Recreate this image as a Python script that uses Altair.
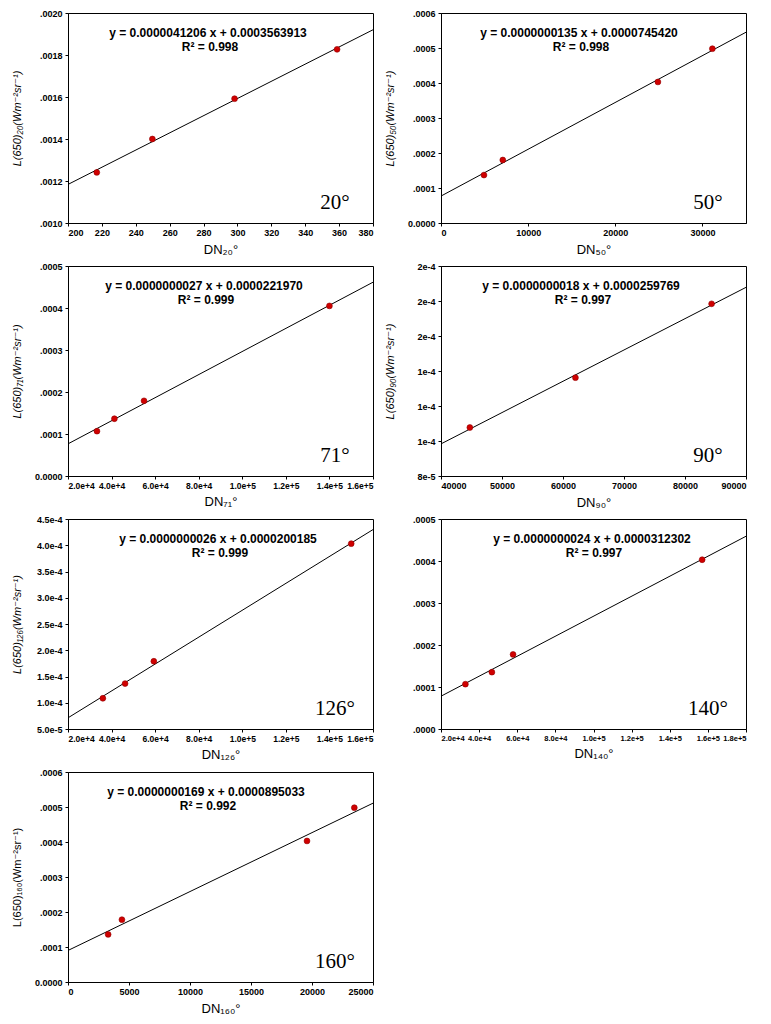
import altair as alt
import pandas as pd

# ---------------- data ----------------
angle_labels = ["20°", "50°", "71°", "90°", "126°", "140°", "160°"]
x_titles = ["DN₂₀°", "DN₅₀°", "DN₇₁°", "DN₉₀°", "DN₁₂₆°", "DN₁₄₀°", "DN₁₆₀°"]
y_titles = [
    "L(650)₂₀(Wm⁻²sr⁻¹)",
    "L(650)₅₀(Wm⁻²sr⁻¹)",
    "L(650)₇₁(Wm⁻²sr⁻¹)",
    "L(650)₉₀(Wm⁻²sr⁻¹)",
    "L(650)₁₂₆(Wm⁻²sr⁻¹)",
    "",
    "L(650)₁₆₀(Wm⁻²sr⁻¹)",
]

dn_20 = [217, 249.8, 298.3, 358.8]
l_20 = [0.001241, 0.001400, 0.001592, 0.001827]
dn_50 = [4930, 7090, 24890, 31140]
l_50 = [0.000137, 0.000180, 0.000403, 0.000498]
dn_71 = [33300, 41300, 54900, 140000]
l_71 = [0.0001067, 0.0001364, 0.000179, 0.000405]
dn_90 = [44730, 62040, 84360]
l_90 = [0.0001077, 0.0001362, 0.0001784]
dn_126 = [36000, 46200, 59400, 150000]
l_126 = [0.0001085, 0.0001365, 0.000179, 0.000403]
dn_140 = [32800, 46700, 57800, 157000]
l_140 = [0.0001067, 0.0001353, 0.0001775, 0.000403]
dn_160 = [3290, 4420, 19590, 23470]
l_160 = [0.000136, 0.000178, 0.000403, 0.000498]

equations = [
    "y = 0.0000041206 x + 0.0003563913",
    "y = 0.0000000135 x + 0.0000745420",
    "y = 0.0000000027 x + 0.0000221970",
    "y = 0.0000000018 x + 0.0000259769",
    "y = 0.0000000026 x + 0.0000200185",
    "y = 0.0000000024 x + 0.0000312302",
    "y = 0.0000000169 x + 0.0000895033",
]
r_squared = ["R² = 0.998", "R² = 0.998", "R² = 0.999", "R² = 0.997",
             "R² = 0.999", "R² = 0.997", "R² = 0.992"]

x_domains = [[200, 380], [0, 35000], [20000, 160000], [40000, 90000],
             [20000, 160000], [20000, 180000], [0, 25000]]
x_ticks = [
    [200, 220, 240, 260, 280, 300, 320, 340, 360, 380],
    [0, 10000, 20000, 30000],
    [20000, 40000, 60000, 80000, 100000, 120000, 140000, 160000],
    [40000, 50000, 60000, 70000, 80000, 90000],
    [20000, 40000, 60000, 80000, 100000, 120000, 140000, 160000],
    [20000, 40000, 60000, 80000, 100000, 120000, 140000, 160000, 180000],
    [0, 5000, 10000, 15000, 20000, 25000],
]
y_domains = [[0.0010, 0.0020], [0, 0.0006], [0, 0.0005], [0.00008, 0.00020],
             [0.00005, 0.00045], [0, 0.0005], [0, 0.0006]]
y_ticks = [
    [0.0010, 0.0012, 0.0014, 0.0016, 0.0018, 0.0020],
    [0, 0.0001, 0.0002, 0.0003, 0.0004, 0.0005, 0.0006],
    [0, 0.0001, 0.0002, 0.0003, 0.0004, 0.0005],
    [0.00008, 0.00010, 0.00012, 0.00014, 0.00016, 0.00018, 0.00020],
    [0.00005, 0.00010, 0.00015, 0.00020, 0.00025, 0.00030, 0.00035, 0.00040, 0.00045],
    [0, 0.0001, 0.0002, 0.0003, 0.0004, 0.0005],
    [0, 0.0001, 0.0002, 0.0003, 0.0004, 0.0005, 0.0006],
]

# ---------------- styling ----------------
W, H = 305, 210
FONT = "Liberation Sans, Arial, DejaVu Sans"
SERIF = "Liberation Serif, Times New Roman, serif"

dot_expr = "slice(format(datum.value, '.4f'), 1)"
zero_expr = "datum.value == 0 ? '0.0000' : slice(format(datum.value, '.4f'), 1)"
y_label_expr = [dot_expr, zero_expr, zero_expr, None, None, dot_expr, zero_expr]
y_formats = [None, None, None, ".0e", ".1e", None, None]
x_formats = ["d", "d", ".1e", "d", ".1e", ".1e", "d"]
x_label_sizes = [9, 9, 8.5, 9, 8.5, 7.5, 9]
eq_x = [140, 138, 136, 140, 150, 151, 138]
title_styles = ["italic"] * 6 + ["normal"]

series = [(dn_20, l_20), (dn_50, l_50), (dn_71, l_71), (dn_90, l_90),
          (dn_126, l_126), (dn_140, l_140), (dn_160, l_160)]


def panel(i):
    xs, ys = series[i]
    df = pd.DataFrame({"x": xs, "y": ys})
    yaxis_kw = dict(values=y_ticks[i], title=y_titles[i],
                    titleFontStyle=title_styles[i], titleX=-46, titleBaseline="bottom",
                    labelOverlap=False)
    if y_label_expr[i]:
        yaxis_kw["labelExpr"] = y_label_expr[i]
    else:
        yaxis_kw["format"] = y_formats[i]
    xenc = alt.X("x:Q", scale=alt.Scale(domain=x_domains[i], nice=False, zero=False),
                 axis=alt.Axis(values=x_ticks[i], format=x_formats[i], title=x_titles[i],
                               labelOverlap=False, labelFontSize=x_label_sizes[i]))
    yenc = alt.Y("y:Q", scale=alt.Scale(domain=y_domains[i], nice=False, zero=False),
                 axis=alt.Axis(**yaxis_kw))

    base = alt.Chart(df)
    line = base.transform_regression("x", "y", extent=x_domains[i]).mark_line(
        color="black", strokeWidth=1).encode(x=xenc, y=yenc)
    pts = base.mark_circle(size=34, color="#d00000", opacity=1,
                           stroke="#900000", strokeWidth=0.6).encode(x=xenc, y=yenc)

    tdf = pd.DataFrame({"eq": [equations[i]], "r2": [r_squared[i]], "ang": [angle_labels[i]]})
    tb = alt.Chart(tdf)
    eq = tb.mark_text(font=FONT, fontSize=12, fontWeight="bold", color="black",
                      align="center", baseline="middle").encode(
        x=alt.value(eq_x[i]), y=alt.value(20), text="eq:N")
    r2 = tb.mark_text(font=FONT, fontSize=12, fontWeight="bold", color="black",
                      align="center", baseline="middle").encode(
        x=alt.value(eq_x[i] + 2), y=alt.value(34), text="r2:N")
    ang = tb.mark_text(font=SERIF, fontSize=21, color="black",
                       align="center", baseline="middle").encode(
        x=alt.value(W - 38), y=alt.value(H - 20), text="ang:N")

    return alt.layer(line, pts, eq, r2, ang).properties(width=W, height=H)


chart = alt.concat(*[panel(i) for i in range(7)], columns=2,
                   spacing=alt.RowColnumber(row=43, column=68),
                   bounds="flush").properties(
    padding={"left": 2, "top": 0, "right": 0, "bottom": 0},
    background="white",
).configure_view(
    stroke="black", strokeWidth=1
).configure_axis(
    grid=False,
    domainColor="black",
    domainWidth=1,
    tickColor="black",
    tickSize=3,
    labelFont=FONT,
    labelFontSize=9,
    labelFontWeight="bold",
    labelColor="black",
    labelPadding=2,
    titleFont=FONT,
    titleFontSize=13,
    titleFontWeight="normal",
    titleColor="black",
).configure_axisX(
    titlePadding=6,
).configure_axisY(
    titleFontSize=11,
    labelPadding=3,
)

chart.save("out.html", embed_options={"renderer": "svg", "actions": False})
